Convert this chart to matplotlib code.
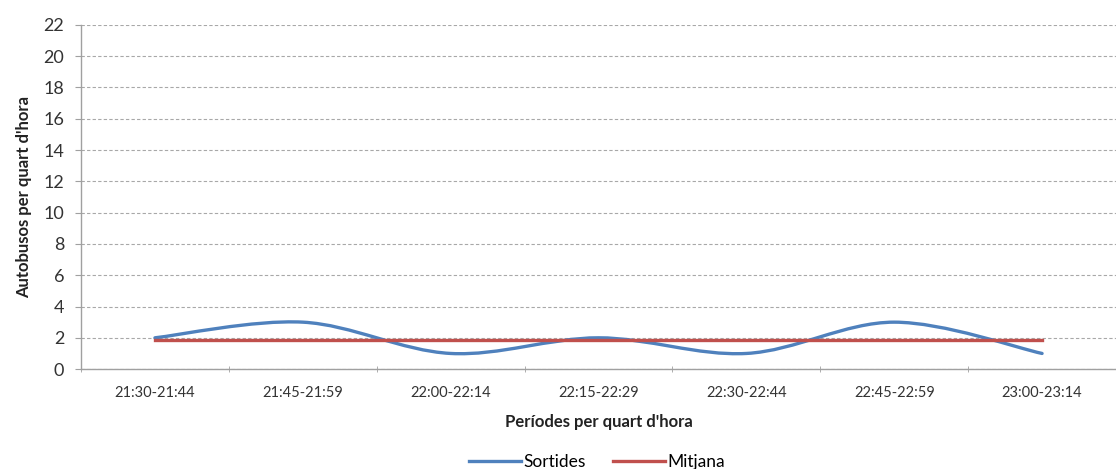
import numpy as np
import matplotlib
matplotlib.use("Agg")
import matplotlib.pyplot as plt
from matplotlib.path import Path
from matplotlib.patches import PathPatch

plt.rcParams['font.family'] = ['Lato', 'DejaVu Sans']

periods = ["21:30-21:44", "21:45-21:59", "22:00-22:14", "22:15-22:29",
           "22:30-22:44", "22:45-22:59", "23:00-23:14"]
sortides = [2, 3, 1, 2, 1, 3, 1]
mitjana = [sum(sortides) / len(sortides)] * len(sortides)

BLUE = "#4F81BD"
RED = "#C0504D"


def smooth_path(xs, ys):
    """Cubic Bezier path through the points (Catmull-Rom style tangents)."""
    pts = np.column_stack([xs, ys]).astype(float)
    n = len(pts)
    verts = [pts[0]]
    codes = [Path.MOVETO]
    for i in range(n - 1):
        p0 = pts[i - 1] if i > 0 else pts[i]
        p1 = pts[i]
        p2 = pts[i + 1]
        p3 = pts[i + 2] if i + 2 < n else pts[i + 1]
        c1 = p1 + (p2 - p0) / 6.0
        c2 = p2 - (p3 - p1) / 6.0
        verts += [c1, c2, p2]
        codes += [Path.CURVE4] * 3
    return Path(verts, codes)


fig = plt.figure(figsize=(11.16, 4.69), dpi=100)
ax = fig.add_axes([0.0726, 0.213, 0.9274, 0.734])

x = np.arange(len(periods))
ax.add_patch(PathPatch(smooth_path(x, sortides), facecolor="none",
                       edgecolor=BLUE, lw=2.4, capstyle="round", zorder=3))
ax.plot([], [], color=BLUE, lw=2.4, label="Sortides")
ax.plot(x, mitjana, color=RED, lw=2.4, label="Mitjana", zorder=4)

ax.set_xlim(-0.5, len(periods) - 0.5)
ax.set_ylim(0, 22)
ax.set_yticks(range(0, 23, 2))
ax.set_xticks(x)
ax.set_xticklabels(periods, fontsize=10.5)
ax.set_xticks(np.arange(-0.5, len(periods), 1.0), minor=True)
ax.tick_params(axis="x", which="major", length=0, pad=12)
ax.tick_params(axis="x", which="minor", length=5, direction="inout", color="#A0A0A0")
ax.tick_params(axis="y", labelsize=13, length=4, direction="out", color="#A0A0A0", pad=8, colors="#333333")
ax.tick_params(axis="x", colors="#333333")

ax.grid(axis="y", linestyle=(0, (3, 2)), color="#A8A8A8", lw=0.8)
ax.set_axisbelow(True)
for s in ["top", "right"]:
    ax.spines[s].set_visible(False)
for s in ["left", "bottom"]:
    ax.spines[s].set_color("#A0A0A0")
    ax.spines[s].set_linewidth(1.0)

ax.set_xlabel("Períodes per quart d'hora", fontsize=12, fontweight="bold", labelpad=10, color="#222222")
ax.set_ylabel("Autobusos per quart d'hora", fontsize=12, fontweight="bold", labelpad=8, color="#222222")

leg = fig.legend(loc="center", bbox_to_anchor=(0.535, 0.015), ncol=2, frameon=False,
                 fontsize=12.5, handlelength=3.0, handletextpad=0.1, columnspacing=1.6)

fig.savefig("out.png", dpi=100)
